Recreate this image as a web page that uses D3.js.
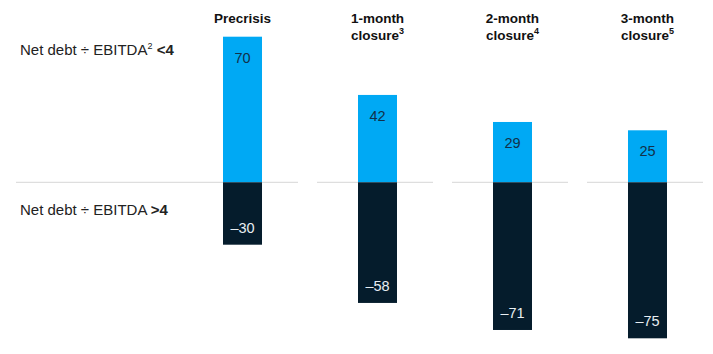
<!DOCTYPE html>
<html>
<head>
<meta charset="utf-8">
<script src="https://cdn.jsdelivr.net/npm/d3@7"></script>
<style>
  body { margin: 0; background: #fff; }
  text { font-family: "Liberation Sans", Arial, sans-serif; }
</style>
</head>
<body>
<div class="chart"></div>
<script>
// data
const categories = ["Precrisis", "1-month closure", "2-month closure", "3-month closure"];
const headerLine1 = ["Precrisis", "1-month", "2-month", "3-month"];
const headerLine2 = ["", "closure", "closure", "closure"];
const headerNote = ["", "3", "4", "5"];
const belowFour = [70, 42, 29, 25];
const aboveFour = [-30, -58, -71, -75];

/* Dimensions */
const width = 713;
const height = 354;
const barWidth = 39;

const svg = d3.select(".chart")
    .append("svg")
    .attr("width", width)
    .attr("height", height);

/* Scales */
const xScale = d3.scaleBand()
    .domain(categories)
    .range([182, 703])
    .paddingInner(0.1407)
    .paddingOuter(0);

const yScale = d3.scaleLinear()
    .domain([-80, 80])
    .range([348.7, 15.9]);

const barCenter = c => xScale(c) + xScale.bandwidth() / 2 + 2.5;

// baseline segments (first one also spans the row labels)
svg.selectAll("line.base")
    .data(categories)
    .enter()
    .append("line")
    .attr("x1", (d, i) => i === 0 ? 16 : xScale(d))
    .attr("x2", d => xScale(d) + xScale.bandwidth())
    .attr("y1", yScale(0))
    .attr("y2", yScale(0))
    .attr("stroke", "#d6d6d6")
    .attr("stroke-width", 1);

// positive bars
svg.selectAll("rect.pos")
    .data(categories)
    .enter()
    .append("rect")
    .attr("x", d => barCenter(d) - barWidth / 2)
    .attr("y", (d, i) => yScale(belowFour[i]))
    .attr("width", barWidth)
    .attr("height", (d, i) => yScale(0) - yScale(belowFour[i]))
    .style("fill", "#00a9f4");

// negative bars
svg.selectAll("rect.neg")
    .data(categories)
    .enter()
    .append("rect")
    .attr("x", d => barCenter(d) - barWidth / 2)
    .attr("y", yScale(0))
    .attr("width", barWidth)
    .attr("height", (d, i) => yScale(aboveFour[i]) - yScale(0))
    .style("fill", "#051c2c");

// value labels
svg.selectAll("text.pos")
    .data(categories)
    .enter()
    .append("text")
    .attr("x", d => barCenter(d))
    .attr("y", (d, i) => yScale(belowFour[i]) + 26)
    .attr("text-anchor", "middle")
    .style("font-size", "14.5px")
    .style("fill", "#12304a")
    .text((d, i) => belowFour[i]);

svg.selectAll("text.neg")
    .data(categories)
    .enter()
    .append("text")
    .attr("x", d => barCenter(d))
    .attr("y", (d, i) => yScale(aboveFour[i]) - 12)
    .attr("text-anchor", "middle")
    .style("font-size", "14.5px")
    .style("fill", "#e8eef2")
    .text((d, i) => "–" + Math.abs(aboveFour[i]));

// column headers
const headers = svg.selectAll("g.header")
    .data(categories)
    .enter()
    .append("text")
    .attr("text-anchor", "middle")
    .style("font-size", "13.5px")
    .style("font-weight", "bold")
    .style("fill", "#111");
headers.append("tspan")
    .attr("x", d => barCenter(d))
    .attr("y", 23)
    .text((d, i) => headerLine1[i]);
headers.filter((d, i) => headerLine2[i] !== "")
    .append("tspan")
    .attr("x", d => barCenter(d))
    .attr("y", 40)
    .text(d => headerLine2[categories.indexOf(d)]);
headers.filter((d, i) => headerNote[i] !== "")
    .append("tspan")
    .attr("dy", -6)
    .style("font-size", "9px")
    .text(d => headerNote[categories.indexOf(d)]);

// row labels
const row1 = svg.append("text")
    .attr("x", 20)
    .attr("y", 55)
    .style("font-size", "15px")
    .style("fill", "#222");
row1.append("tspan").text("Net debt ÷ EBITDA");
row1.append("tspan").attr("dy", -6).style("font-size", "9px").text("2");
row1.append("tspan").attr("dy", 6).style("font-weight", "bold").text(" <4");

const row2 = svg.append("text")
    .attr("x", 20)
    .attr("y", 215)
    .style("font-size", "15px")
    .style("fill", "#222");
row2.append("tspan").text("Net debt ÷ EBITDA ");
row2.append("tspan").style("font-weight", "bold").text(">4");
</script>
</body>
</html>
